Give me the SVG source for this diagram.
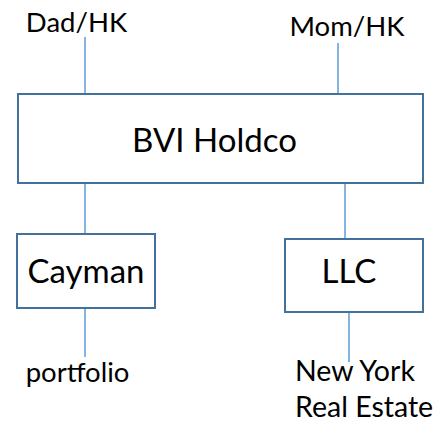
<svg xmlns="http://www.w3.org/2000/svg" width="439" height="424" viewBox="0 0 439 424">
  <style>
    .box { fill: #ffffff; stroke: #41719c; stroke-width: 2; }
    .link { stroke: #5b9bd5; stroke-width: 1.5; fill: none; }
    .label { font-family: Lato, "Open Sans", sans-serif; font-size: 27.5px; fill: #000000; }
    .asset { font-size: 28.5px; }
    .name { font-family: Lato, "Open Sans", sans-serif; font-size: 33px; fill: #000000; text-anchor: middle; }
  </style>
  <rect width="439" height="424" fill="#ffffff"/>

  <!-- connectors -->
  <g id="connectors">
    <line class="link" x1="85" y1="37" x2="85" y2="94"/>
    <line class="link" x1="338" y1="43" x2="338" y2="94"/>
    <line class="link" x1="85" y1="183" x2="85" y2="234"/>
    <line class="link" x1="345" y1="183" x2="345" y2="239"/>
    <line class="link" x1="85" y1="308" x2="85" y2="357"/>
    <line class="link" x1="349" y1="312" x2="349" y2="362"/>
  </g>

  <!-- owners -->
  <g id="dad">
    <text class="label" x="76.5" y="32" text-anchor="middle">Dad/HK</text>
  </g>
  <g id="mom">
    <text class="label" x="347" y="36" text-anchor="middle">Mom/HK</text>
  </g>

  <!-- holding company -->
  <g id="bvi-holdco">
    <rect class="box" x="18" y="94" width="405" height="89"/>
    <text class="name" x="214.5" y="152">BVI Holdco</text>
  </g>

  <!-- subsidiaries -->
  <g id="cayman">
    <rect class="box" x="17" y="234" width="138" height="74"/>
    <text class="name" x="86" y="283">Cayman</text>
  </g>
  <g id="llc">
    <rect class="box" x="285" y="239" width="138" height="73"/>
    <text class="name" x="349" y="283">LLC</text>
  </g>

  <!-- assets -->
  <g id="portfolio">
    <text class="label" x="77.5" y="382" text-anchor="middle">portfolio</text>
  </g>
  <g id="real-estate">
    <text class="label asset" x="295" y="381">New York</text>
    <text class="label asset" x="295" y="417">Real Estate</text>
  </g>
</svg>
